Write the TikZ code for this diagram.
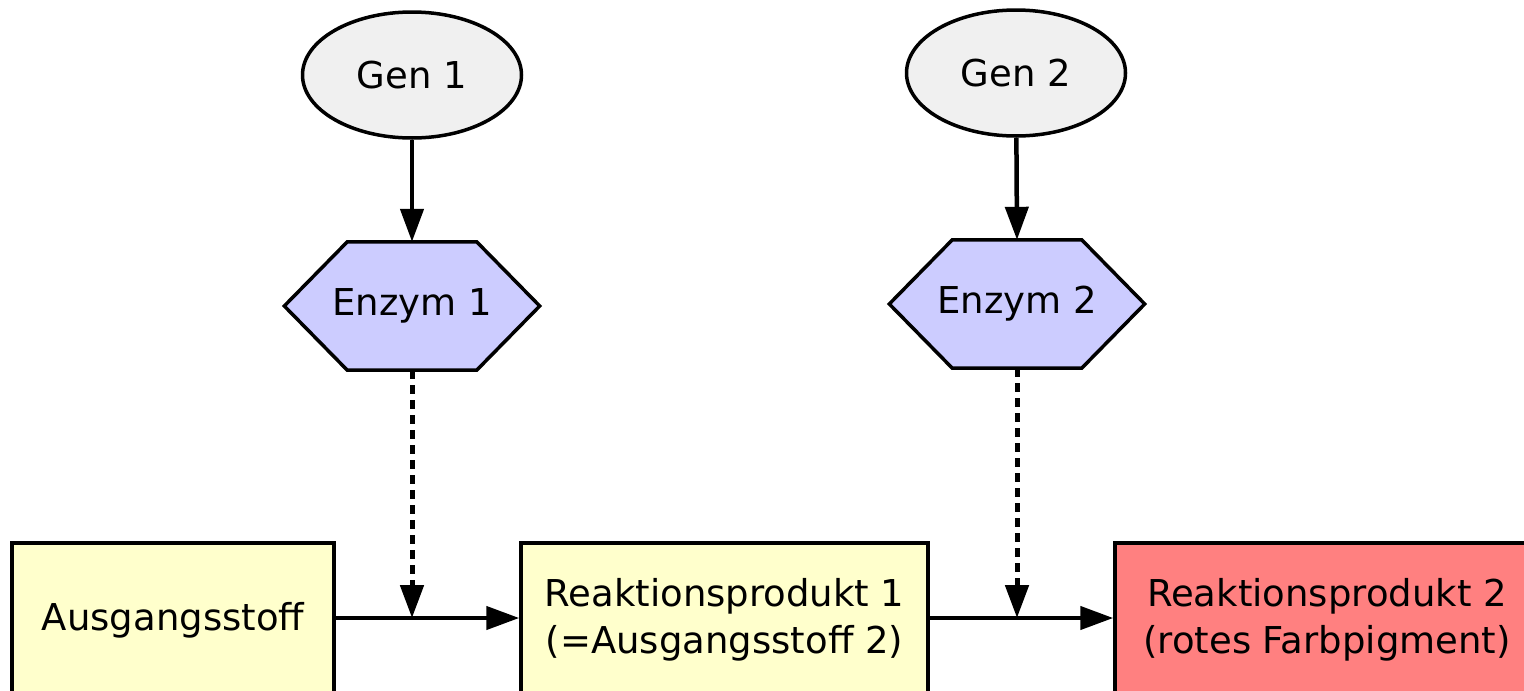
\documentclass[tikz,border=0pt]{standalone}
\usepackage{fontspec}
\setmainfont{DejaVu Sans}
\usetikzlibrary{shapes.geometric,arrows.meta,backgrounds}
\definecolor{genfill}{HTML}{F0F0F0}
\definecolor{enzfill}{HTML}{CCCCFF}
\definecolor{stofffill}{HTML}{FFFFCC}
\definecolor{pigfill}{HTML}{FF8080}
\begin{document}
\begin{tikzpicture}[x=1pt,y=-1pt,
  box/.style={font=\fontsize{37}{47}\selectfont, line width=3.5pt, draw=black, inner sep=0pt},
  gen/.style={box, ellipse, fill=genfill, minimum width=219pt, minimum height=126pt},
  enz/.style={font=\fontsize{37}{47}\selectfont, inner sep=0pt, rectangle, minimum width=255pt, minimum height=128pt},
  hexa/.style={line width=3.5pt, draw=black, fill=enzfill, line join=miter},
  stoff/.style={box, rectangle, fill=stofffill, minimum height=154pt, align=center},
  pig/.style={stoff, fill=pigfill},
  arr/.style={line width=4.5pt, -{Triangle[length=33pt,width=23pt]}},
  dots/.style={arr, line width=5pt, dash pattern=on 9pt off 6pt}]
\useasboundingbox (0,0) rectangle (1524,691);
\clip (0,0) rectangle (1524,691);
\node[gen] (g1) at (412,75) {Gen 1};
\node[gen] (g2) at (1016,73) {Gen 2};
\node[enz] (e1) at (412,306) {Enzym 1};
\node[enz] (e2) at (1017,304) {Enzym 2};
\begin{scope}[on background layer]
\foreach \e in {e1,e2}{
  \draw[hexa] (\e.west) -- ([xshift=63pt]\e.north west) -- ([xshift=-63pt]\e.north east)
    -- (\e.east) -- ([xshift=-63pt]\e.south east) -- ([xshift=63pt]\e.south west) -- cycle;
}
\end{scope}
\node[stoff, minimum width=322pt] (a) at (173,620) {Ausgangsstoff};
\node[stoff, minimum width=407pt] (r1) at (724.5,620) {Reaktionsprodukt 1\\(=Ausgangsstoff 2)};
\node[pig, minimum width=424pt] (r2) at (1327,620) {Reaktionsprodukt 2\\(rotes Farbpigment)};
\coordinate (m1) at (412,618);
\coordinate (m2) at (1017,618);
\draw[arr] (g1) -- (e1.north);
\draw[arr] (g2) -- (e2.north);
\draw[dots] (e1.south) -- (m1);
\draw[dots] (e2.south) -- (m2);
\draw[arr] (a.east |- m1) -- (r1.west |- m1);
\draw[arr] (r1.east |- m2) -- (r2.west |- m2);
\end{tikzpicture}
\end{document}
